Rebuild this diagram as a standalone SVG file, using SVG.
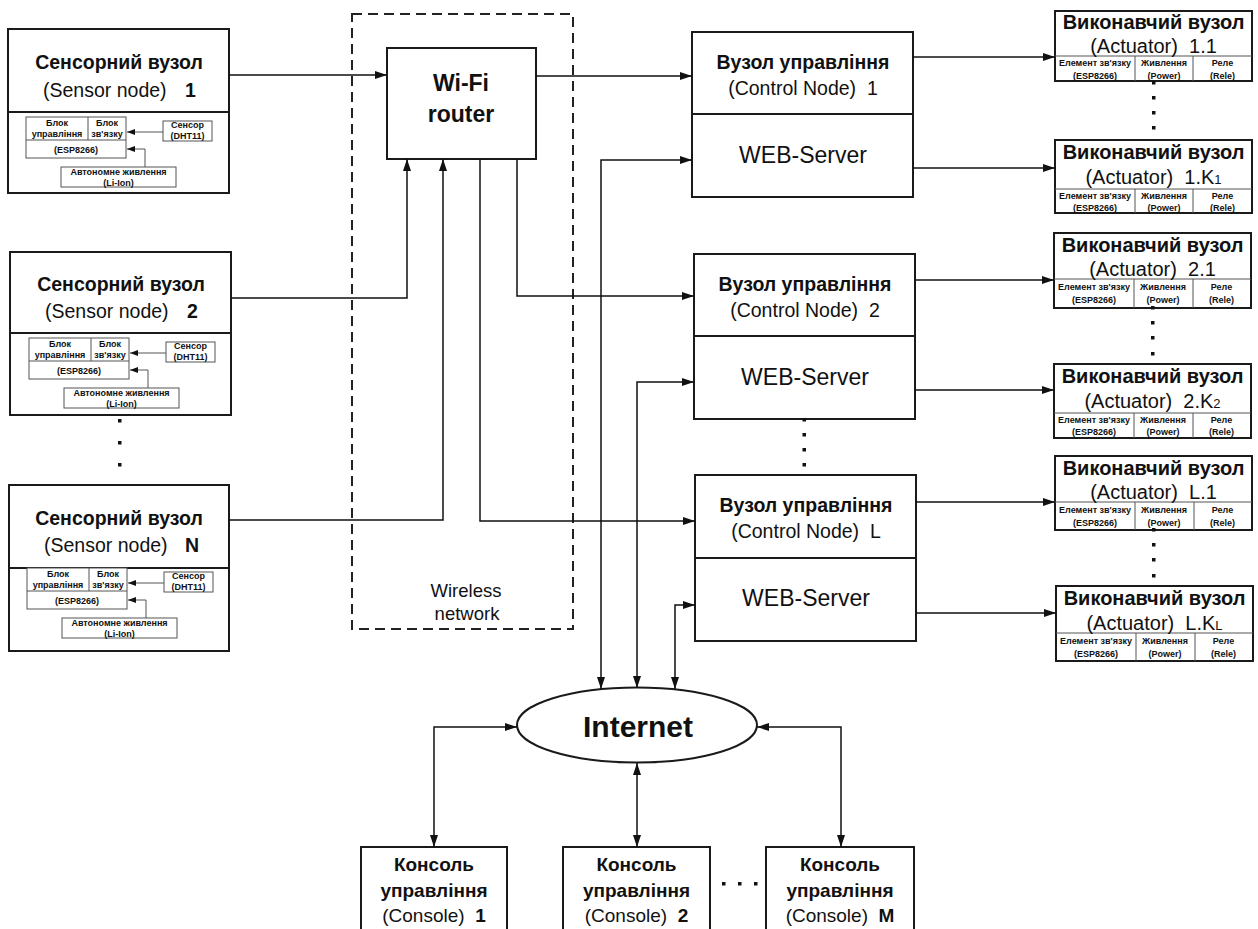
<svg xmlns="http://www.w3.org/2000/svg" width="1258" height="929" viewBox="0 0 1258 929">
<style>
.box{fill:#fff;stroke:#1a1a1a;stroke-width:2}
.thin{fill:#fff;stroke:#555;stroke-width:1}
.ln{fill:none;stroke:#1a1a1a;stroke-width:2}
.tl{fill:none;stroke:#555;stroke-width:1}
.conn{fill:none;stroke:#111;stroke-width:1.5}
.dash{fill:none;stroke:#222;stroke-width:2;stroke-dasharray:10 6}
text{font-family:"Liberation Sans",Arial,sans-serif;fill:#111}
.m{text-anchor:middle}
.b{font-weight:bold}
.st{font-size:19.5px}
.sm{font-size:9px;font-weight:bold}
.at{font-size:20px;font-weight:bold}
.a2{font-size:20px}
.tb{font-size:9px;font-weight:bold}
.ct{font-size:19.5px}
.ws{font-size:23px}
.cs{font-size:19px}
.dot{fill:#111}
</style>
<defs>
<marker id="ah" viewBox="0 0 12 8" refX="12" refY="4" markerWidth="12" markerHeight="8" markerUnits="userSpaceOnUse" orient="auto-start-reverse"><path d="M0,0 L12,4 L0,8 z" fill="#111"/></marker>
<marker id="sa" viewBox="0 0 8 6" refX="8" refY="3" markerWidth="8" markerHeight="6" markerUnits="userSpaceOnUse" orient="auto"><path d="M0,0 L8,3 L0,6 z" fill="#111"/></marker>
<g id="sinner">
<rect class="thin" x="18" y="88" width="100" height="41"/>
<line class="tl" x1="80" y1="88" x2="80" y2="111"/>
<line class="tl" x1="18" y1="111" x2="118" y2="111"/>
<text class="sm m" x="49" y="97">Блок</text>
<text class="sm m" x="49" y="108">управління</text>
<text class="sm m" x="99" y="97">Блок</text>
<text class="sm m" x="99" y="108">зв'язку</text>
<text class="sm m" x="68" y="124">(ESP8266)</text>
<rect class="thin" x="155" y="92" width="49" height="20"/>
<text class="sm m" x="179.5" y="99">Сенсор</text>
<text class="sm m" x="179.5" y="110">(DHT11)</text>
<rect class="thin" x="53" y="138" width="115" height="20"/>
<text class="sm m" x="110.5" y="146">Автономне живлення</text>
<text class="sm m" x="110.5" y="157">(Li-Ion)</text>
<path class="tl" d="M155,103 H119" marker-end="url(#sa)"/>
<path class="tl" d="M137,138 V120 H119" marker-end="url(#sa)"/>
</g>
</defs>

<rect class="dash" x="352" y="14" width="221" height="615"/>
<text class="m" x="466" y="597" font-size="18.5">Wireless</text>
<text class="m" x="467" y="620" font-size="18.5">network</text>

<g id="sensor1" transform="translate(8,29)">
<rect class="box" x="0" y="0" width="221" height="164"/>
<line class="ln" x1="0" y1="83" x2="221" y2="83"/>
<text class="st b m" x="111" y="40">Сенсорний вузол</text>
<text class="st" x="35" y="68">(Sensor node)<tspan class="b" x="177">1</tspan></text>
<use href="#sinner"/>
</g>
<g id="sensor2" transform="translate(10,252)">
<rect class="box" x="0" y="0" width="221" height="163"/>
<line class="ln" x1="0" y1="81" x2="221" y2="81"/>
<text class="st b m" x="111" y="39">Сенсорний вузол</text>
<text class="st" x="35" y="66">(Sensor node)<tspan class="b" x="177">2</tspan></text>
<use href="#sinner" transform="translate(1,-2)"/>
</g>
<g id="sensorN" transform="translate(9,485)">
<rect class="box" x="0" y="0" width="220" height="166"/>
<line class="ln" x1="0" y1="83" x2="220" y2="83"/>
<text class="st b m" x="110" y="40">Сенсорний вузол</text>
<text class="st" x="35" y="67">(Sensor node)<tspan class="b" x="176">N</tspan></text>
<use href="#sinner" transform="translate(0,-5)"/>
</g>
<g id="sensor-dots">
<rect class="dot" x="118" y="419" width="3.5" height="3.5"/>
<rect class="dot" x="118" y="441" width="3.5" height="3.5"/>
<rect class="dot" x="118" y="463" width="3.5" height="3.5"/>
</g>

<g id="router">
<rect class="box" x="387" y="48" width="149" height="111"/>
<text class="b m" x="461" y="91" font-size="23">Wi-Fi</text>
<text class="b m" x="461" y="122" font-size="23">router</text>
</g>

<g id="control1" transform="translate(692,32)">
<rect class="box" x="0" y="0" width="221" height="165"/>
<line class="ln" x1="0" y1="82" x2="221" y2="82"/>
<text class="ct b m" x="111" y="37">Вузол управління</text>
<text class="ct m" x="111" y="63" xml:space="preserve">(Control Node)  1</text>
<text class="ws m" x="111" y="131">WEB-Server</text>
</g>
<g id="control2" transform="translate(694,254)">
<rect class="box" x="0" y="0" width="221" height="165"/>
<line class="ln" x1="0" y1="82" x2="221" y2="82"/>
<text class="ct b m" x="111" y="37">Вузол управління</text>
<text class="ct m" x="111" y="63" xml:space="preserve">(Control Node)  2</text>
<text class="ws m" x="111" y="131">WEB-Server</text>
</g>
<g id="controlL" transform="translate(695,475)">
<rect class="box" x="0" y="0" width="221" height="166"/>
<line class="ln" x1="0" y1="83" x2="221" y2="83"/>
<text class="ct b m" x="111" y="37">Вузол управління</text>
<text class="ct m" x="111" y="63" xml:space="preserve">(Control Node)  L</text>
<text class="ws m" x="111" y="131">WEB-Server</text>
</g>
<g id="control-dots">
<rect class="dot" x="802.5" y="418" width="3.5" height="3.5"/>
<rect class="dot" x="802.5" y="433" width="3.5" height="3.5"/>
<rect class="dot" x="802.5" y="448" width="3.5" height="3.5"/>
<rect class="dot" x="802.5" y="463" width="3.5" height="3.5"/>
</g>

<g id="act11" transform="translate(1055,11)">
<rect class="box" x="0" y="0" width="197" height="70"/>
<line class="tl" x1="0" y1="45" x2="197" y2="45"/>
<line class="tl" x1="80" y1="45" x2="80" y2="70"/>
<line class="tl" x1="138" y1="45" x2="138" y2="70"/>
<text class="at m" x="98.5" y="18">Виконавчий вузол</text>
<text class="a2 m" x="98.5" y="42" xml:space="preserve">(Actuator)  1.1</text>
<text class="tb m" x="40" y="55">Елемент зв'язку</text><text class="tb m" x="40" y="68">(ESP8266)</text>
<text class="tb m" x="109" y="55">Живлення</text><text class="tb m" x="109" y="68">(Power)</text>
<text class="tb m" x="167.5" y="55">Реле</text><text class="tb m" x="167.5" y="68">(Rele)</text>
</g>
<g id="act1K" transform="translate(1055,140)">
<rect class="box" x="0" y="0" width="197" height="73"/>
<line class="tl" x1="0" y1="49" x2="197" y2="49"/>
<line class="tl" x1="80" y1="49" x2="80" y2="73"/>
<line class="tl" x1="138" y1="49" x2="138" y2="73"/>
<text class="at m" x="98.5" y="19">Виконавчий вузол</text>
<text class="a2 m" x="98.5" y="44" xml:space="preserve">(Actuator)  1.K<tspan font-size="13">1</tspan></text>
<text class="tb m" x="40" y="59">Елемент зв'язку</text><text class="tb m" x="40" y="71">(ESP8266)</text>
<text class="tb m" x="109" y="59">Живлення</text><text class="tb m" x="109" y="71">(Power)</text>
<text class="tb m" x="167.5" y="59">Реле</text><text class="tb m" x="167.5" y="71">(Rele)</text>
</g>
<g id="act21" transform="translate(1054,233)">
<rect class="box" x="0" y="0" width="197" height="75"/>
<line class="tl" x1="0" y1="46" x2="197" y2="46"/>
<line class="tl" x1="80" y1="46" x2="80" y2="75"/>
<line class="tl" x1="139" y1="46" x2="139" y2="75"/>
<text class="at m" x="98.5" y="19">Виконавчий вузол</text>
<text class="a2 m" x="98.5" y="43" xml:space="preserve">(Actuator)  2.1</text>
<text class="tb m" x="40" y="57">Елемент зв'язку</text><text class="tb m" x="40" y="70">(ESP8266)</text>
<text class="tb m" x="109" y="57">Живлення</text><text class="tb m" x="109" y="70">(Power)</text>
<text class="tb m" x="167.5" y="57">Реле</text><text class="tb m" x="167.5" y="70">(Rele)</text>
</g>
<g id="act2K" transform="translate(1054,364)">
<rect class="box" x="0" y="0" width="197" height="74"/>
<line class="tl" x1="0" y1="49" x2="197" y2="49"/>
<line class="tl" x1="80" y1="49" x2="80" y2="74"/>
<line class="tl" x1="139" y1="49" x2="139" y2="74"/>
<text class="at m" x="98.5" y="19">Виконавчий вузол</text>
<text class="a2 m" x="98.5" y="44" xml:space="preserve">(Actuator)  2.K<tspan font-size="13">2</tspan></text>
<text class="tb m" x="40" y="59">Елемент зв'язку</text><text class="tb m" x="40" y="71">(ESP8266)</text>
<text class="tb m" x="109" y="59">Живлення</text><text class="tb m" x="109" y="71">(Power)</text>
<text class="tb m" x="167.5" y="59">Реле</text><text class="tb m" x="167.5" y="71">(Rele)</text>
</g>
<g id="actL1" transform="translate(1055,456)">
<rect class="box" x="0" y="0" width="197" height="74"/>
<line class="tl" x1="0" y1="46" x2="197" y2="46"/>
<line class="tl" x1="80" y1="46" x2="80" y2="74"/>
<line class="tl" x1="139" y1="46" x2="139" y2="74"/>
<text class="at m" x="98.5" y="19">Виконавчий вузол</text>
<text class="a2 m" x="98.5" y="43" xml:space="preserve">(Actuator)  L.1</text>
<text class="tb m" x="40" y="57">Елемент зв'язку</text><text class="tb m" x="40" y="70">(ESP8266)</text>
<text class="tb m" x="109" y="57">Живлення</text><text class="tb m" x="109" y="70">(Power)</text>
<text class="tb m" x="167.5" y="57">Реле</text><text class="tb m" x="167.5" y="70">(Rele)</text>
</g>
<g id="actLK" transform="translate(1056,586)">
<rect class="box" x="0" y="0" width="197" height="75"/>
<line class="tl" x1="0" y1="47" x2="197" y2="47"/>
<line class="tl" x1="80" y1="47" x2="80" y2="75"/>
<line class="tl" x1="139" y1="47" x2="139" y2="75"/>
<text class="at m" x="98.5" y="19">Виконавчий вузол</text>
<text class="a2 m" x="98.5" y="44" xml:space="preserve">(Actuator)  L.K<tspan font-size="13">L</tspan></text>
<text class="tb m" x="40" y="58">Елемент зв'язку</text><text class="tb m" x="40" y="71">(ESP8266)</text>
<text class="tb m" x="109" y="58">Живлення</text><text class="tb m" x="109" y="71">(Power)</text>
<text class="tb m" x="167.5" y="58">Реле</text><text class="tb m" x="167.5" y="71">(Rele)</text>
</g>
<g id="act-dots">
<rect class="dot" x="1152" y="81" width="3.5" height="3.5"/>
<rect class="dot" x="1152" y="96" width="3.5" height="3.5"/>
<rect class="dot" x="1152" y="111" width="3.5" height="3.5"/>
<rect class="dot" x="1152" y="126" width="3.5" height="3.5"/>
<rect class="dot" x="1151" y="306" width="3.5" height="3.5"/>
<rect class="dot" x="1151" y="321" width="3.5" height="3.5"/>
<rect class="dot" x="1151" y="336" width="3.5" height="3.5"/>
<rect class="dot" x="1151" y="352" width="3.5" height="3.5"/>
<rect class="dot" x="1152" y="528" width="3.5" height="3.5"/>
<rect class="dot" x="1152" y="543" width="3.5" height="3.5"/>
<rect class="dot" x="1152" y="558" width="3.5" height="3.5"/>
<rect class="dot" x="1152" y="574" width="3.5" height="3.5"/>
</g>

<g id="internet">
<ellipse cx="637" cy="725" rx="120" ry="37.5" fill="#fff" stroke="#1a1a1a" stroke-width="2"/>
<text class="b m" x="638" y="737" font-size="30">Internet</text>
</g>

<g id="console1">
<rect class="box" x="361" y="847" width="146" height="100"/>
<text class="cs b m" x="434" y="871">Консоль</text>
<text class="cs b m" x="434" y="897">управління</text>
<text class="cs m" x="434" y="922" xml:space="preserve">(Console)  <tspan class="b">1</tspan></text>
</g>
<g id="console2">
<rect class="box" x="563" y="847" width="147" height="100"/>
<text class="cs b m" x="636.5" y="871">Консоль</text>
<text class="cs b m" x="636.5" y="897">управління</text>
<text class="cs m" x="636.5" y="922" xml:space="preserve">(Console)  <tspan class="b">2</tspan></text>
</g>
<g id="consoleM">
<rect class="box" x="766" y="847" width="148" height="100"/>
<text class="cs b m" x="840" y="871">Консоль</text>
<text class="cs b m" x="840" y="897">управління</text>
<text class="cs m" x="840" y="922" xml:space="preserve">(Console)  <tspan class="b">M</tspan></text>
</g>
<g id="console-dots">
<rect class="dot" x="722" y="882" width="3.5" height="3.5"/>
<rect class="dot" x="738" y="882" width="3.5" height="3.5"/>
<rect class="dot" x="754" y="882" width="3.5" height="3.5"/>
</g>

<g id="connectors">
<path class="conn" d="M229,75 H387" marker-end="url(#ah)"/>
<path class="conn" d="M231,298 H407 V159" marker-end="url(#ah)"/>
<path class="conn" d="M229,520 H443 V159" marker-end="url(#ah)"/>
<path class="conn" d="M536,76 H692" marker-end="url(#ah)"/>
<path class="conn" d="M517,159 V296 H694" marker-end="url(#ah)"/>
<path class="conn" d="M480,159 V521 H695" marker-end="url(#ah)"/>
<path class="conn" d="M601,689 V160 H692" marker-start="url(#ah)" marker-end="url(#ah)"/>
<path class="conn" d="M637,688 V382 H694" marker-start="url(#ah)" marker-end="url(#ah)"/>
<path class="conn" d="M675,689 V605 H695" marker-start="url(#ah)" marker-end="url(#ah)"/>
<path class="conn" d="M913,57 H1055" marker-end="url(#ah)"/>
<path class="conn" d="M913,168 H1055" marker-end="url(#ah)"/>
<path class="conn" d="M915,280 H1054" marker-end="url(#ah)"/>
<path class="conn" d="M915,390 H1054" marker-end="url(#ah)"/>
<path class="conn" d="M916,502 H1055" marker-end="url(#ah)"/>
<path class="conn" d="M916,613 H1056" marker-end="url(#ah)"/>
<path class="conn" d="M517,727 H434 V847" marker-start="url(#ah)" marker-end="url(#ah)"/>
<path class="conn" d="M637,763 V847" marker-start="url(#ah)" marker-end="url(#ah)"/>
<path class="conn" d="M757,727 H841 V847" marker-start="url(#ah)" marker-end="url(#ah)"/>
</g>
</svg>
